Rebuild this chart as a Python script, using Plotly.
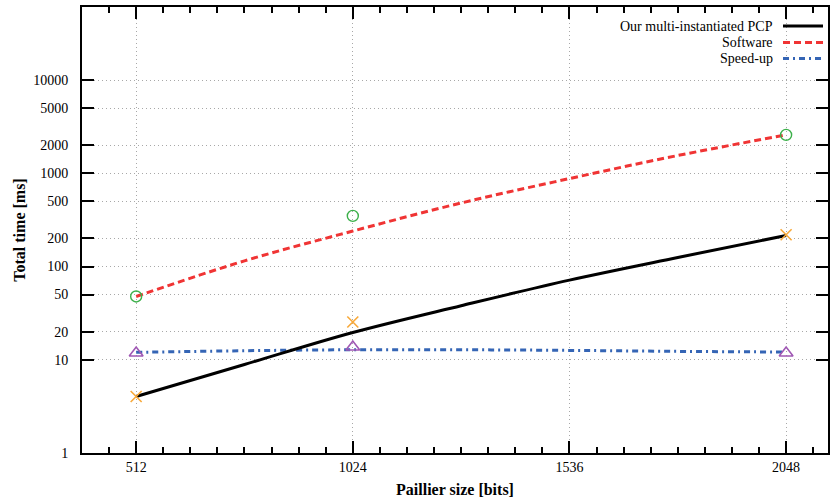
import plotly.graph_objects as go

# ---- data ----
sizes = [512, 1024, 2048]
pcp_times = [4.04, 25.4, 219]          # orange crosses
sw_times = [47.7, 349, 2580]           # green circles
speedup = [11.8, 13.7, 11.8]           # purple triangles

curve_x = [512, 768, 1024, 1280, 1536, 1792, 2048]
pcp_curve = [4.04, 8.9, 19.6, 38, 71.5, 125, 215]
sw_curve = [47.7, 115, 240, 480, 877, 1550, 2580]
speedup_curve = [12.0, 12.5, 12.8, 12.8, 12.6, 12.3, 12.1]

legend_labels = ["Our multi-instantiated PCP", "Software", "Speed-up"]

x_ticks = [512, 1024, 1536, 2048]
y_ticks = [1, 10, 20, 50, 100, 200, 500, 1000, 2000, 5000, 10000]

# ---- style ----
W, H = 831, 502
ML, MR, MT, MB = 82, 3, 7, 49
PW, PH = W - ML - MR, H - MT - MB
SERIF = "Liberation Serif, Times New Roman, serif"

c_black = "#000000"
c_red = "#f03434"
c_blue = "#3565b5"
c_orange = "#f8a93a"
c_green = "#3cb04a"
c_purple = "#a058b4"

line_styles = [
    dict(color=c_black, width=3, dash="solid"),
    dict(color=c_red, width=3, dash="7px,4px"),
    dict(color=c_blue, width=3, dash="6px,4px,2px,4px"),
]

fig = go.Figure()

fig.add_trace(go.Scatter(x=curve_x, y=speedup_curve, mode="lines", line_shape="spline",
                         line=line_styles[2], showlegend=False))
fig.add_trace(go.Scatter(x=curve_x, y=sw_curve, mode="lines", line_shape="spline",
                         line=line_styles[1], showlegend=False))
fig.add_trace(go.Scatter(x=curve_x, y=pcp_curve, mode="lines", line_shape="spline",
                         line=line_styles[0], showlegend=False))

fig.add_trace(go.Scatter(x=sizes, y=pcp_times, mode="markers", showlegend=False,
                         marker=dict(symbol="x-thin-open", size=11, color=c_orange,
                                     line=dict(color=c_orange, width=1.6))))
fig.add_trace(go.Scatter(x=sizes, y=sw_times, mode="markers", showlegend=False,
                         marker=dict(symbol="circle-open", size=11, color=c_green,
                                     line=dict(color=c_green, width=1.4))))
fig.add_trace(go.Scatter(x=sizes, y=speedup, mode="markers", showlegend=False,
                         marker=dict(symbol="triangle-up-open", size=12, color=c_purple,
                                     line=dict(color=c_purple, width=1.6))))

# ---- legend (text to the left of sample line, gnuplot style) ----
def px2paper_x(px):
    return (px - ML) / PW

def px2paper_y(py):
    return (H - MB - py) / PH

rows_y = [26, 42.5, 58.5]
for lab, st, yy in zip(legend_labels, line_styles, rows_y):
    fig.add_annotation(x=px2paper_x(775), y=px2paper_y(yy), xref="paper", yref="paper",
                       text=lab, showarrow=False, xanchor="right", yanchor="middle",
                       font=dict(family=SERIF, size=14, color="#000"))
    fig.add_shape(type="line", xref="paper", yref="paper",
                  x0=px2paper_x(783), x1=px2paper_x(823),
                  y0=px2paper_y(yy), y1=px2paper_y(yy), line=st)

axis_common = dict(
    showline=True, linecolor="#000", linewidth=2, mirror="allticks",
    ticks="inside", tickcolor="#000", tickwidth=2, ticklen=12,
    showgrid=True, gridcolor="#a8a8a8", griddash="1px,3px", gridwidth=1,
    zeroline=False,
    tickfont=dict(family=SERIF, size=14, color="#000"),
)

fig.update_xaxes(
    **axis_common,
    range=[384, 2147],
    tickmode="array", tickvals=x_ticks, ticktext=[str(v) for v in x_ticks],
    minor=dict(dtick=64, tick0=0, ticks="inside", ticklen=6, tickwidth=2,
               tickcolor="#000", showgrid=False),
    title=dict(text="<b>Paillier size [bits]</b>", standoff=10,
               font=dict(family=SERIF, size=16, color="#000")),
)
fig.update_yaxes(
    **axis_common,
    type="log", range=[0, 4.783],
    tickmode="array", tickvals=y_ticks, ticktext=[str(v) for v in y_ticks],
    ticklabelstandoff=9,
    title=dict(text="<b>Total time [ms]</b>", standoff=4,
               font=dict(family=SERIF, size=16, color="#000")),
)

fig.update_layout(
    width=W, height=H,
    margin=dict(l=ML, r=MR, t=MT, b=MB, autoexpand=False),
    plot_bgcolor="#fff", paper_bgcolor="#fff",
    showlegend=False,
)

fig.write_html("out.html", config={"displayModeBar": False},
               post_script="document.body.style.margin='0';")
